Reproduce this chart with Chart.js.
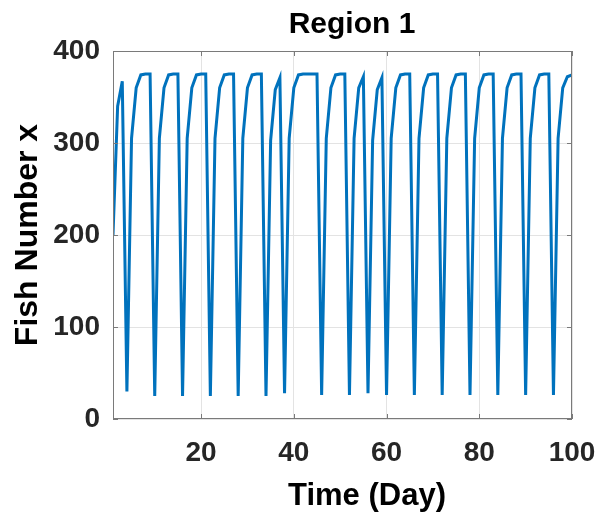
<!DOCTYPE html>
<html>
<head>
<meta charset="utf-8">
<script src="https://cdn.jsdelivr.net/npm/chart.js@4.4.1/dist/chart.umd.min.js"></script>
<style>
  html, body { margin: 0; padding: 0; background: #fff; }
</style>
</head>
<body>
<canvas id="fishChart" width="598" height="516"></canvas>
<script>
// Region 1 - fish number over time
const days = [
  1, 2, 3, 4, 5, 6, 7, 8, 9, 10,
  11, 12, 13, 14, 15, 16, 17, 18, 19, 20,
  21, 22, 23, 24, 25, 26, 27, 28, 29, 30,
  31, 32, 33, 34, 35, 36, 37, 38, 39, 40,
  41, 42, 43, 44, 45, 46, 47, 48, 49, 50,
  51, 52, 53, 54, 55, 56, 57, 58, 59, 60,
  61, 62, 63, 64, 65, 66, 67, 68, 69, 70,
  71, 72, 73, 74, 75, 76, 77, 78, 79, 80,
  81, 82, 83, 84, 85, 86, 87, 88, 89, 90,
  91, 92, 93, 94, 95, 96, 97, 98, 99, 100,
];

const fishNumber = [
  200, 340, 367, 30, 305, 360, 374, 375, 375, 25,
  305, 360, 374, 375, 375, 25, 305, 360, 374, 375,
  375, 25, 305, 360, 374, 375, 375, 25, 305, 360,
  374, 375, 375, 25, 303, 358, 371, 28, 305, 360,
  374, 375, 375, 375, 375, 26, 305, 360, 374, 375,
  375, 26, 305, 360, 372, 28, 303, 358, 371, 26,
  305, 360, 374, 375, 375, 26, 305, 360, 374, 375,
  375, 26, 305, 360, 374, 375, 375, 26, 305, 360,
  374, 375, 375, 26, 305, 360, 374, 375, 375, 26,
  305, 360, 374, 375, 375, 26, 305, 360, 372, 374,
];

const xTicks = [20, 40, 60, 80, 100];
const yTicks = [0, 100, 200, 300, 400];

const FONT = "'Liberation Sans', Arial, Helvetica, sans-serif";

// titel, label sumbu dan kotak ala MATLAB
const framePlugin = {
  id: "frame",
  afterDatasetsDraw(chart) {
    const { ctx, chartArea: a, scales } = chart;
    ctx.save();
    ctx.strokeStyle = "#7a7a7a";
    ctx.lineWidth = 1;
    ctx.strokeRect(a.left + 0.5, a.top + 0.5, a.right - a.left - 1, a.bottom - a.top - 1);

    // tick kecil ke dalam
    ctx.beginPath();
    xTicks.forEach((v) => {
      const px = Math.round(scales.x.getPixelForValue(v)) + 0.5;
      ctx.moveTo(px, a.bottom);
      ctx.lineTo(px, a.bottom - 5);
      ctx.moveTo(px, a.top);
      ctx.lineTo(px, a.top + 5);
    });
    yTicks.forEach((v) => {
      const py = Math.round(scales.y.getPixelForValue(v)) + 0.5;
      ctx.moveTo(a.left, py);
      ctx.lineTo(a.left + 5, py);
      ctx.moveTo(a.right, py);
      ctx.lineTo(a.right - 5, py);
    });
    ctx.stroke();
    ctx.restore();
  },
  afterDraw(chart) {
    const { ctx, chartArea: a } = chart;
    ctx.save();
    ctx.fillStyle = "#000";
    ctx.textAlign = "center";
    ctx.textBaseline = "alphabetic";

    ctx.font = "bold 30px " + FONT;
    ctx.fillText("Region 1", 352, 33);

    ctx.font = "bold 31px " + FONT;
    ctx.fillText("Time (Day)", 367, 505);

    ctx.translate(37, (a.top + a.bottom) / 2);
    ctx.rotate(-Math.PI / 2);
    ctx.font = "bold 32px " + FONT;
    ctx.fillText("Fish Number x", 0, 0);
    ctx.restore();
  },
};

const ctx = document.getElementById("fishChart").getContext("2d");
const fishChart = new Chart(ctx, {
  type: "line",
  data: {
    datasets: [
      {
        label: "Fish Number x",
        data: days.map((d, i) => ({ x: d, y: fishNumber[i] })),
        borderColor: "#0072BD",
        borderWidth: 3,
        pointRadius: 0,
        tension: 0,
        fill: false,
      },
    ],
  },
  options: {
    responsive: false,
    animation: false,
    layout: {
      padding: { top: 51, right: 26, bottom: 0, left: 0 },
    },
    plugins: {
      legend: { display: false },
      tooltip: { enabled: false },
      title: { display: false },
    },
    scales: {
      x: {
        type: "linear",
        min: 1,
        max: 100,
        afterBuildTicks: (axis) => {
          axis.ticks = xTicks.map((v) => ({ value: v }));
        },
        afterFit: (scale) => {
          scale.height = 97;
          scale.paddingLeft = 0;
          scale.paddingRight = 0;
        },
        grid: { color: "#e3e3e3", drawTicks: false },
        border: { display: false },
        ticks: {
          color: "#262626",
          padding: 17,
          maxRotation: 0,
          font: { family: FONT, size: 28, weight: "bold" },
        },
      },
      y: {
        min: 0,
        max: 400,
        afterBuildTicks: (axis) => {
          axis.ticks = yTicks.map((v) => ({ value: v }));
        },
        afterFit: (scale) => {
          scale.width = 113;
          scale.paddingTop = 0;
          scale.paddingBottom = 0;
        },
        grid: { color: "#e3e3e3", drawTicks: false },
        border: { display: false },
        ticks: {
          color: "#262626",
          padding: 13,
          font: { family: FONT, size: 28, weight: "bold" },
        },
      },
    },
  },
  plugins: [framePlugin],
});
</script>
</body>
</html>
